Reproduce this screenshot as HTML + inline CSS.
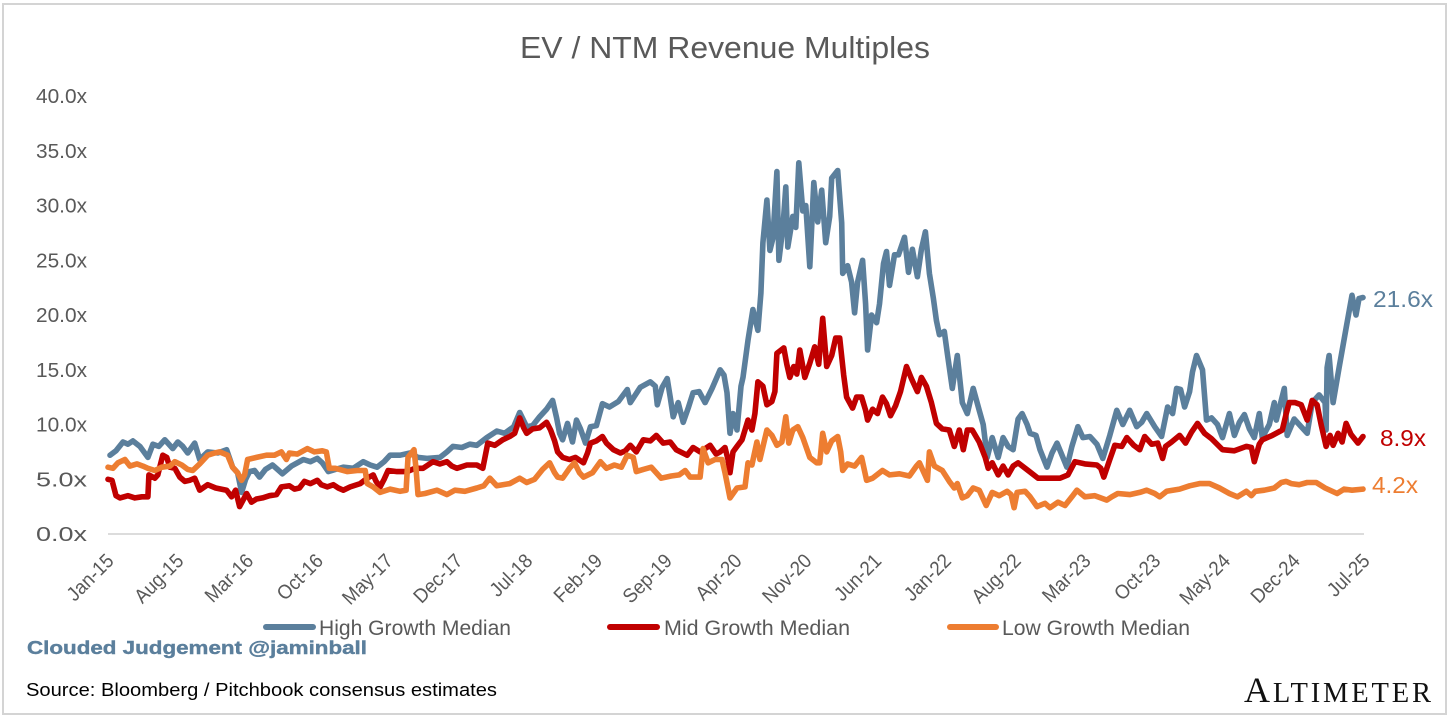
<!DOCTYPE html>
<html lang="en">
<head>
<meta charset="utf-8">
<title>EV / NTM Revenue Multiples</title>
<style>
html,body{margin:0;padding:0;background:#fff;width:1456px;height:718px;overflow:hidden}
svg{display:block}
text{font-family:"Liberation Sans",sans-serif}
</style>
</head>
<body>
<svg id="chart" width="1456" height="718" viewBox="0 0 1456 718" xmlns="http://www.w3.org/2000/svg">
  <rect x="0" y="0" width="1456" height="718" fill="#ffffff"/>
  <rect x="3" y="4" width="1443" height="710" fill="none" stroke="#d4d4d4" stroke-width="2"/>
  <text x="520" y="58" font-size="31" fill="#595959" textLength="410" lengthAdjust="spacingAndGlyphs">EV / NTM Revenue Multiples</text>
  <line x1="108" y1="534" x2="1364" y2="534" stroke="#d0d0d0" stroke-width="1.5"/>
  <g id="y-ticks"></g>
  <g id="x-ticks"></g>
  <g id="series"></g>
  <text x="1373" y="307" font-size="23.5" fill="#5b7f9c" textLength="60" lengthAdjust="spacingAndGlyphs">21.6x</text>
  <text x="1380" y="446" font-size="23.5" fill="#c00000" textLength="46" lengthAdjust="spacingAndGlyphs">8.9x</text>
  <text x="1372" y="493" font-size="23.5" fill="#ed7d31" textLength="46" lengthAdjust="spacingAndGlyphs">4.2x</text>
  <g>
    <g>
      <line x1="266" y1="627" x2="313" y2="627" stroke="#5b7f9c" stroke-width="6" stroke-linecap="round"/>
      <text x="319" y="635" font-size="21.5" fill="#595959" textLength="192" lengthAdjust="spacingAndGlyphs">High Growth Median</text>
    </g>
    <g>
      <line x1="610" y1="627" x2="657" y2="627" stroke="#c00000" stroke-width="6" stroke-linecap="round"/>
      <text x="664" y="635" font-size="21.5" fill="#595959" textLength="186" lengthAdjust="spacingAndGlyphs">Mid Growth Median</text>
    </g>
    <g>
      <line x1="950" y1="627" x2="996" y2="627" stroke="#ed7d31" stroke-width="6" stroke-linecap="round"/>
      <text x="1002" y="635" font-size="21.5" fill="#595959" textLength="188" lengthAdjust="spacingAndGlyphs">Low Growth Median</text>
    </g>
  </g>
  <text x="27" y="654" font-size="18.5" font-weight="bold" fill="#5b7f9c" stroke="#5b7f9c" stroke-width="0.4" textLength="340" lengthAdjust="spacingAndGlyphs">Clouded Judgement @jaminball</text>
  <text x="26" y="696" font-size="18.5" fill="#000000" textLength="471" lengthAdjust="spacingAndGlyphs">Source: Bloomberg / Pitchbook consensus estimates</text>
  <text x="1244" y="702" fill="#111111" textLength="187" lengthAdjust="spacing" style="font-family:'Liberation Serif',serif"><tspan font-size="36">A</tspan><tspan font-size="28.5">LTIMETER</tspan></text>
</svg>
<script>
const yTickValues = [0, 5, 10, 15, 20, 25, 30, 35, 40];
const xTickLabels = ["Jan-15","Aug-15","Mar-16","Oct-16","May-17","Dec-17","Jul-18","Feb-19","Sep-19","Apr-20","Nov-20","Jun-21","Jan-22","Aug-22","Mar-23","Oct-23","May-24","Dec-24","Jul-25"];
const monthsPerTick = 7;

const highMonths = [
0.2,0.8,1.5,2.0,2.5,3.2,4.0,4.5,5.1,5.7,
6.5,7.0,7.5,8.0,8.7,9.2,10.0,11.0,11.9,12.5,
13.0,13.4,13.8,14.2,14.7,15.2,15.8,16.5,17.0,17.5,
18.4,19.6,20.3,21.0,21.5,22.1,22.8,23.6,24.6,25.6,
26.3,27.0,27.7,28.3,29.3,30.3,31.1,32.0,33.3,34.0,
34.6,35.5,36.3,37.0,38.0,39.0,39.8,40.7,41.3,42.0,
42.6,43.3,44.0,44.6,45.0,45.3,45.6,46.1,46.6,47.0,
47.4,47.9,48.4,49.0,49.6,50.3,51.2,52.1,52.4,53.4,
54.4,54.9,55.1,55.6,56.1,56.4,56.7,57.2,57.7,58.2,
58.7,59.3,59.9,60.6,61.4,61.8,62.1,62.4,62.7,63.1,
63.5,63.7,64.2,64.7,65.2,65.5,65.7,66.1,66.4,66.7,
67.1,67.3,67.7,68.0,68.2,68.7,69.0,69.3,69.7,70.0,
70.4,70.8,71.2,71.6,72.0,72.4,72.6,73.2,73.6,73.7,
74.2,74.6,74.9,75.2,75.7,76.0,76.2,76.6,77.1,77.4,
77.8,78.1,78.4,78.9,79.3,79.9,80.3,80.7,81.2,81.6,
82.0,82.4,82.8,83.1,83.4,83.9,84.2,84.7,85.2,85.7,
86.2,86.8,87.4,87.8,88.2,88.7,89.3,89.8,90.3,90.8,
91.3,91.7,92.2,92.5,93.1,93.5,94.2,94.7,95.2,95.7,
96.2,96.7,97.3,97.8,98.5,99.2,99.8,100.5,101.2,101.8,
102.5,103.2,103.7,104.2,105,105.7,106.3,106.8,107.2,107.6,
108,108.5,108.8,109.2,109.8,110.2,110.7,111.3,111.8,112.5,
113,113.5,114,114.5,115,115.5,115.8,116.5,117,117.2,
118,118.3,119,119.7,120.3,120.8,121.5,122.1,122.2,122.3,
122.5,122.9,123.5,124.2,124.8,125.2,125.5,125.9];
const highValues = [
7.2,7.6,8.4,8.2,8.5,8.0,7.0,8.2,8.0,8.6,
7.8,8.4,8.0,7.4,8.3,6.8,7.5,7.4,7.7,6.1,
5.6,3.8,5.0,5.7,5.8,5.2,5.9,6.3,5.9,5.5,
6.2,6.8,6.6,6.9,6.5,5.7,5.9,6.1,6.0,6.6,
6.3,6.1,6.6,7.2,7.2,7.4,7.0,6.9,7.0,7.5,
8.0,7.9,8.2,8.1,8.8,9.4,9.2,9.8,11.1,9.8,
9.9,10.7,11.4,12.2,10.6,9.2,8.6,10.1,8.4,10.4,
9.6,8.3,9.8,9.9,11.9,11.6,12.1,13.2,12.0,13.4,
13.9,13.5,11.8,13.4,14.2,12.5,10.7,12,10.2,11.5,
12.9,13.0,12.0,13.3,15,14.5,12.9,9.2,11,9.5,
13.5,14.3,17.7,20.5,18.6,22,26.6,30.5,25.9,27,
33.1,25,28,31.7,26.2,29,28,33.9,29.5,30,
24.4,32.1,28.5,31.4,26.6,29,32.5,33.2,28.4,23.8,
24.5,23,20.2,23,25,21,16.8,20,19.3,21,
24.7,25.8,22.7,25.5,25.5,27.1,23.9,26,23.5,26,
27.6,23.8,21.5,19.5,18.2,18.5,16.5,13.3,16.3,12,
11,13.3,11.3,10,7,8.8,7,8.8,8,7.7,
10.5,11,10,9.2,9,7.7,6.1,7.4,8.3,7.2,
6.1,8,9.8,8.8,8.9,8.2,6.9,9,11.3,10,
11.3,9.8,10.2,11,9.8,8.9,11.6,11,13.3,13.2,
11.6,13,14.8,16.3,15,10.4,10.6,10,8.8,11,
9,10.2,10.9,9.6,8.8,11,8.8,10,12,10.4,
13.3,9,10.5,9.8,9.2,12,12.7,12,9.5,15.2,
16.3,12,15.2,18.8,21.8,20,21.5,21.6];

const midMonths = [
0,0.4,0.8,1.2,2,2.7,3.4,4,4.1,4.7,
5,5.5,5.9,6.2,6.7,7.2,7.7,8.2,8.7,9.2,
10,10.8,11.9,12.4,12.8,13.2,13.9,14.4,14.9,15.5,
16.2,16.9,17.4,18.2,18.7,19.2,19.7,20.3,21,21.4,
22,22.6,23.1,23.6,24.3,25.3,26,26.6,26.9,27.3,
27.7,28.1,29,30,30.8,31.6,32.6,33.3,34,34.5,
35,36,37,37.6,38.1,38.8,39.6,40.3,40.8,41.3,
41.7,42,42.6,43.3,44,44.4,44.8,45.1,45.6,46.3,
46.9,47.7,48.1,48.4,49,49.6,50,50.7,51.4,51.9,
52.4,53,53.7,54.4,55,55.7,56.4,57,58.1,58.7,
59.4,60.4,61,61.4,61.9,62.2,62.4,62.7,63.1,63.6,
64.2,64.6,64.9,65.2,65.7,66.1,66.6,66.9,67.1,67.8,
68.1,68.4,68.8,69.1,69.4,69.9,70.4,70.9,71.3,71.7,
72.1,72.6,73,73.4,73.8,74.1,74.7,75.1,75.6,76,
76.2,76.7,77.2,77.7,78.1,78.5,79,79.5,80.1,80.6,
81.2,81.6,82.1,82.6,83.1,83.7,84.4,84.9,85.4,85.8,
86.2,86.7,87.4,88,88.3,88.7,89.3,89.8,90.3,90.8,
91.3,92.3,93.3,94.2,95.5,96.3,97,98,99.2,99.6,
99.9,100.5,101,101.7,102.2,102.9,103.5,104,104.7,105.3,
105.8,106.1,106.7,107.5,108.1,108.7,109.3,110,110.7,111.8,
113,114.2,114.7,115,115.5,115.8,116.8,117.8,118.2,118.5,
119.1,119.7,120.3,120.8,121.3,121.7,122.2,122.6,122.9,123.4,
123.8,124.2,124.7,125.4,125.9];
const midValues = [
5.0,4.9,3.5,3.3,3.5,3.3,3.4,3.4,5.4,5.1,
5.4,7.2,7.0,6.1,6.0,5.2,4.8,4.9,5.1,4.0,
4.5,4.2,4.0,3.4,4.0,2.5,3.7,2.9,3.2,3.3,
3.5,3.6,4.3,4.4,4.1,4.2,4.8,4.6,4.9,4.5,
4.3,4.5,4.2,4.0,4.3,4.6,5.1,5.4,4.8,4.3,
5.0,5.8,5.7,5.7,6.0,6.0,6.6,6.4,6.6,6.2,
6.0,6.3,6.3,6.0,8.3,8.1,8.6,8.9,9.2,10.6,
9.7,9.2,9.6,9.7,10.2,9.5,8.5,7.5,7.0,6.8,
7.0,6.5,7.4,8.3,8.5,8.9,8.3,7.7,7.4,7.6,
8.1,7.5,8.6,8.5,9.0,8.3,8.4,7.7,7.2,7.9,
7.5,8.1,7.3,7.5,7.9,6.8,5.6,7.5,8.0,8.6,
10.4,9.5,11,13.9,13.5,11.8,12.1,13,16.5,17,
15.5,14.3,15.3,14.6,16.8,14.3,15.6,17.1,15.5,19.7,
15.3,16.3,17.9,17.9,14.5,12.5,11.5,12.5,12.5,11.3,
10.4,11.4,11,12.5,11.9,10.8,11.7,13,15.3,14.2,
13,14.3,13.5,12,10.1,9.6,9.5,8,9.5,7.7,
9.5,9.5,8.4,7,6,6.5,5.4,6.2,5.4,6.2,
6.5,5.8,5.1,5.1,5.1,5.4,6.6,6.4,6.3,6,
5.2,6.8,8.1,8,8.8,8.1,7.7,8.9,8.2,8.3,
6.9,8,8.4,9,8.3,9.3,10.1,9.2,8.7,7.7,
7.6,8,7.9,6.6,8.2,8.6,9,9.5,11,12,
12,11.8,10.4,12.2,11.8,10,8,9,8.1,9.2,
8.4,10.1,9.1,8.3,8.9];

const lowMonths = [
0,0.5,1,1.7,2.2,2.9,3.5,4,4.7,5.4,
6.2,6.7,7.4,8,8.5,9.2,10,10.7,11.2,12,
12.5,13,13.4,13.7,14,14.9,15.9,16.7,17.4,17.9,
18.2,19,20,20.7,21.5,21.9,22.2,22.8,24,25,
25.8,26,26.6,27.3,28.3,29.3,29.9,30.1,30.7,30.9,
31.1,31.8,33,34,34.8,35.8,37,37.7,38.3,39,
40.3,41.3,42,42.8,43.6,44.3,44.8,45.1,45.6,46.3,
46.8,47.3,47.7,48.6,49.4,50,50.8,51.5,52.1,52.7,
53,53.7,54.5,55.5,56.5,57.3,57.9,58.4,59.4,59.7,
60.2,60.9,61.6,61.9,62.4,63.1,63.9,64.2,64.6,65.1,
65.4,66.1,66.6,67.1,67.6,68,68.3,68.7,69.2,69.7,
70.4,71.1,71.4,71.7,72.1,72.6,73.2,73.5,73.7,74.2,
74.9,75.6,76.1,76.7,77.7,78.4,79.4,80.4,81.1,81.4,
82.2,82.4,82.9,83.7,84.4,84.9,85.2,85.7,86.2,86.8,
87.4,88.1,88.7,89.4,90.2,90.6,90.9,91.2,92,92.5,
93.2,94,94.5,95.3,96,96.7,97.2,98,99,100.2,
100.7,101.3,102.5,103.5,104.2,105,105.5,106.2,107.5,108.5,
109.5,110.5,111.5,112.5,113.3,114.2,114.7,115.1,116,117,
117.7,118.2,118.7,119.5,120.3,121.2,122.1,123.3,124,124.8,
125.9];
const lowValues = [
6.1,6.0,6.5,6.8,6.2,6.4,6.2,6.0,5.8,6.1,
6.2,6.6,6.3,5.9,5.8,6.4,7.2,7.4,7.5,7.2,
6.1,5.6,4.9,5.4,6.8,7.0,7.2,7.2,7.5,6.8,
7.4,7.3,7.8,7.5,7.6,7.5,6.0,6.0,5.7,5.8,
5.8,4.6,4.3,3.8,4.1,3.9,4.0,7,7.7,6,
3.6,3.7,4.0,3.6,4.0,3.9,4.2,4.4,5.1,4.4,
4.6,5.1,4.7,5.0,5.9,6.5,5.6,5.2,5.1,6.0,
6.5,5.6,5.2,5.6,6.6,6.0,6.3,6.1,7.2,7.0,
5.7,5.9,6.1,5.1,5.3,5.4,5.8,5.2,5.2,7.8,
6.5,6.8,6.8,5.6,3.3,4.2,4.3,6.5,6.3,8.4,
6.8,9.5,9.0,8.1,8.4,10.7,8.3,9.5,9.8,8.8,
7,6.5,6.5,9.2,7.5,8.5,8.9,7.5,5.8,6.4,
6.2,7,4.9,5.1,5.8,5.4,5.5,5.3,6.2,6.5,
4.9,7.5,6.2,5.8,4.8,4.2,4.6,3.3,3.5,4.2,
4.0,2.6,3.8,3.5,3.9,3.6,2.4,3.8,3.9,3.4,
2.5,2.8,2.4,2.9,2.6,3.4,4.0,3.4,3.5,3.1,
3.4,3.7,3.6,3.8,4.0,3.7,3.4,3.9,4.1,4.4,
4.6,4.6,4.2,3.7,3.4,3.9,3.5,3.9,4.0,4.2,
4.7,4.8,4.6,4.5,4.7,4.7,4.2,3.7,4.1,4.0,
4.1];

const seriesNames = ["high-growth-median", "mid-growth-median", "low-growth-median"];
const seriesColors = ["#5b7f9c", "#c00000", "#ed7d31"];
const seriesMonths = [highMonths, midMonths, lowMonths];
const seriesValues = [highValues, midValues, lowValues];

const SVG_NS = "http://www.w3.org/2000/svg";
const plot = { left: 108, right: 1364, top: 96, bottom: 534 };
const yMax = 40;
const totalMonths = (xTickLabels.length - 1) * monthsPerTick;
function xScale(month) { return plot.left + month / totalMonths * (plot.right - plot.left); }
function yScale(value) { return plot.bottom - value / yMax * (plot.bottom - plot.top); }

const yGroup = document.getElementById("y-ticks");
yTickValues.forEach(function (tick) {
  const el = document.createElementNS(SVG_NS, "text");
  
  
  el.setAttribute("x", 87);
  el.setAttribute("y", yScale(tick) + 7);
  el.setAttribute("text-anchor", "end");
  el.setAttribute("font-size", "20");
  el.setAttribute("fill", "#595959");
  el.setAttribute("textLength", "51");
  el.setAttribute("lengthAdjust", "spacingAndGlyphs");
  el.textContent = tick.toFixed(1) + "x";
  yGroup.appendChild(el);
});

const xGroup = document.getElementById("x-ticks");
xTickLabels.forEach(function (label, i) {
  const px = xScale(i * monthsPerTick) + 7;
  const py = 562;
  const el = document.createElementNS(SVG_NS, "text");
  
  
  el.setAttribute("x", px);
  el.setAttribute("y", py);
  el.setAttribute("text-anchor", "end");
  el.setAttribute("font-size", "20");
  el.setAttribute("fill", "#595959");
  el.setAttribute("transform", "rotate(-45 " + px + " " + py + ")");
  el.textContent = label;
  xGroup.appendChild(el);
  el.setAttribute("textLength", (el.getComputedTextLength() * 0.93).toFixed(1));
  el.setAttribute("lengthAdjust", "spacingAndGlyphs");
});

const seriesGroup = document.getElementById("series");
seriesNames.forEach(function (name, s) {
  const months = seriesMonths[s];
  const values = seriesValues[s];
  const n = Math.min(months.length, values.length);
  let d = "";
  for (let i = 0; i < n; i++) {
    d += (i ? "L" : "M") + xScale(months[i]).toFixed(1) + " " + yScale(values[i]).toFixed(1);
  }
  const path = document.createElementNS(SVG_NS, "path");
  
  
  path.setAttribute("d", d);
  path.setAttribute("fill", "none");
  path.setAttribute("stroke", seriesColors[s]);
  path.setAttribute("stroke-width", "5.6");
  path.setAttribute("stroke-linejoin", "round");
  path.setAttribute("stroke-linecap", "round");
  seriesGroup.appendChild(path);
});
</script>
</body>
</html>
